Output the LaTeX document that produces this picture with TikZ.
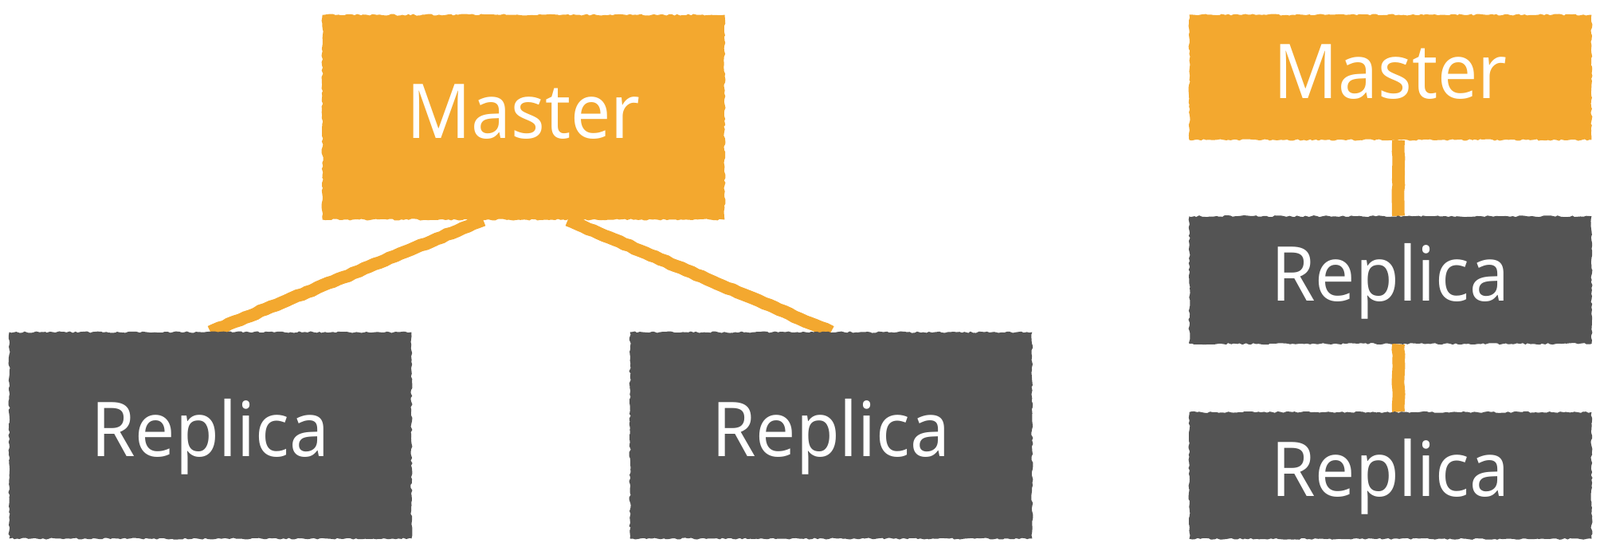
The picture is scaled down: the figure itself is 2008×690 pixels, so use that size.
\documentclass[tikz,border=0pt]{standalone}
\usepackage{fontspec}
\setmainfont[FakeStretch=0.94]{Noto Sans}
\usetikzlibrary{calc, positioning, backgrounds, decorations.pathmorphing}
\definecolor{masterorange}{HTML}{F3A82F}
\definecolor{replicagray}{HTML}{545454}

\begin{document}
\begin{tikzpicture}[
   x = 0.02cm, y = -0.02cm,
   box/.style = {rectangle, minimum width=10.1cm, inner sep=0pt, text=white,
                 font=\fontsize{54}{60}\selectfont, text height=38pt, text depth=8pt,
                 decorate, decoration={random steps, segment length=2pt, amplitude=0.6pt}},
   master/.style = {box, fill=masterorange},
   replica/.style = {box, fill=replicagray},
   link/.style = {draw=masterorange, line width=9pt,
                  decorate, decoration={random steps, segment length=4pt, amplitude=0.4pt}}]
   \useasboundingbox (0,0) rectangle (2008,690);

   % tree on the left
   \node[master, minimum height=5.14cm]  (m)  at (657,147)  {Master};
   \node[replica, minimum height=5.18cm] (r1) at (264,546)  {Replica};
   \node[replica, minimum height=5.18cm] (r2) at (1043,546) {Replica};

   % chain on the right
   \node[master, minimum height=3.14cm]  (cm)  at (1745,97) {Master};
   \node[replica, minimum height=3.2cm, below=1.9cm of cm]  (cr1) {Replica};
   \node[replica, minimum height=3.18cm, below=1.7cm of cr1] (cr2) {Replica};

   \begin{scope}[on background layer]
      \draw[link] ($(m.south west)!0.40!(m.south east)$) -- (r1.north);
      \draw[link] ($(m.south west)!0.61!(m.south east)$) -- (r2.north);
      \draw[link] ($(cm.south)+(10,0)$) -- ($(cr1.north)+(10,0)$);
      \draw[link] ($(cr1.south)+(10,0)$) -- ($(cr2.north)+(10,0)$);
   \end{scope}
\end{tikzpicture}
\end{document}
